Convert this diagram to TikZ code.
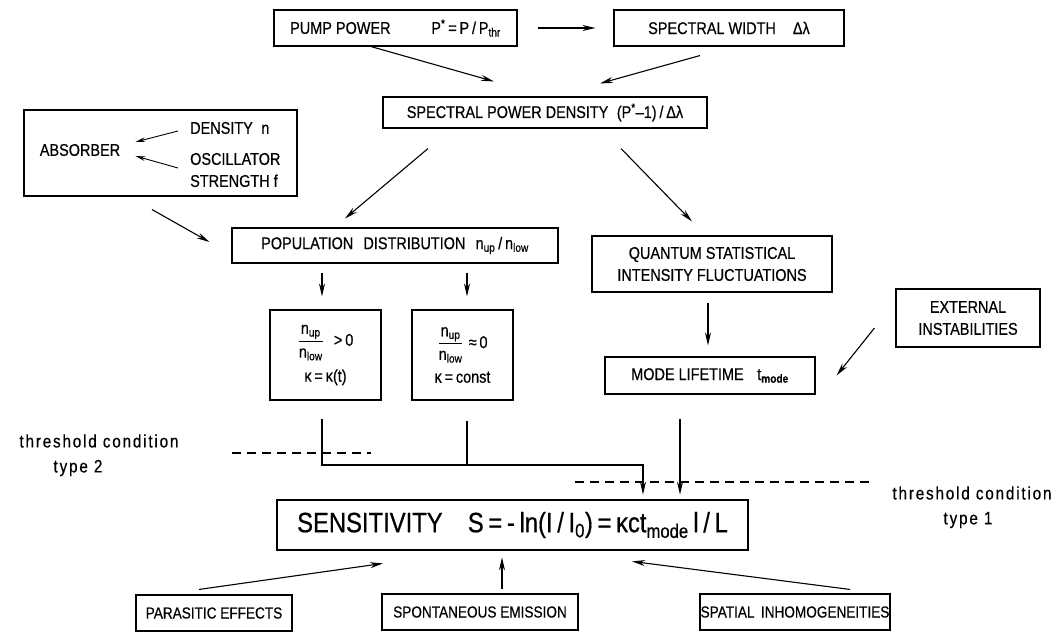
\documentclass[tikz,border=0pt]{standalone}
\usepackage{fontspec}
\setmainfont{Liberation Sans}[FakeStretch=0.85,FakeBold=0.5]
\usepackage{amsmath}
\usetikzlibrary{arrows.meta}
\begin{document}
\begin{tikzpicture}[x=1pt,y=-1pt,
  box/.style={draw,line width=1.1pt,inner sep=0pt,align=center,font=\fontsize{17}{22}\selectfont},
  txt/.style={inner sep=0pt,align=left,font=\fontsize{17}{22}\selectfont},
  thr/.style={inner sep=0pt,align=center,font=\fontsize{18}{22}\selectfont\addfontfeature{LetterSpace=10}},
  bbox/.style={draw,line width=1.1pt,inner sep=0pt,align=center,font=\fontsize{16}{20}\selectfont},
  arr/.style={line width=1.1pt,-{Stealth[length=13pt,width=6pt]}},
  sarr/.style={line width=0.9pt,-{Stealth[length=10pt,width=4.5pt]}},
  ln/.style={line width=1.1pt},
  dsh/.style={line width=1.1pt,dash pattern=on 9pt off 6pt}]
\useasboundingbox (0,0) rectangle (1059,634);

% top row
\node[box,minimum width=243pt,minimum height=36pt] (pump) at (395.5,28) {PUMP POWER\hspace{2.4em}P\textsuperscript{*}\,=\,P\,/\,P\textsubscript{thr}};
\node[box,minimum width=230pt,minimum height=36pt] (sw) at (729,28) {SPECTRAL WIDTH\hspace{1em}Δλ};
\node[box,minimum width=324pt,minimum height=31pt] (spd) at (545,112.5) {SPECTRAL POWER DENSITY\hspace{0.5em}(P\textsuperscript{*}--1)\,/\,Δλ};

% absorber
\node[draw,line width=1.1pt,minimum width=273pt,minimum height=86pt] (abs) at (160.5,153) {};
\node[txt] (absl) at (80,150) {ABSORBER};
\node[txt,anchor=west] (dens) at (190,128) {DENSITY\hspace{0.5em}n};
\node[txt,anchor=west] (osc) at (190,170) {OSCILLATOR\\STRENGTH f};

% middle
\node[box,minimum width=326pt,minimum height=35pt] (pop) at (395,245.5) {POPULATION\hspace{0.6em}DISTRIBUTION\hspace{0.6em}n\textsubscript{up}\,/\,n\textsubscript{low}};
\node[box,minimum width=240pt,minimum height=56pt] (qs) at (712,264) {QUANTUM STATISTICAL\\INTENSITY FLUCTUATIONS};
\node[box,minimum width=111pt,minimum height=90pt] (f1) at (325.5,355) {$\dfrac{\mbox{n\textsubscript{up}}}{\mbox{n\textsubscript{low}}}$\hspace{0.6em}>\,0\\[8pt]κ\,=\,κ(t)};
\node[box,minimum width=101pt,minimum height=90pt] (f2) at (462.5,355) {$\dfrac{\mbox{n\textsubscript{up}}}{\mbox{n\textsubscript{low}}}$\hspace{0.3em}≈\,0\\[8pt]κ\,=\,const};
\node[box,minimum width=210pt,minimum height=37pt] (mode) at (710,375.5) {MODE LIFETIME\hspace{0.8em}t\textsubscript{\textbf{mode}}};
\node[box,minimum width=144pt,minimum height=58pt] (ext) at (968,318) {EXTERNAL\\INSTABILITIES};

% threshold labels
\node[thr] (th2) at (99,441) {threshold condition};
\node[thr] (ty2) at (78,468) {type 2};
\node[thr] (th1) at (972,493) {threshold condition};
\node[thr] (ty1) at (968,520) {type 1};
\coordinate (d2a) at (232,453);
\coordinate (d2b) at (371,453);
\coordinate (d1a) at (575,482);
\coordinate (d1b) at (870,482);
\draw[dsh] (d2a) -- (d2b);
\draw[dsh] (d1a) -- (d1b);

% sensitivity
\node[draw,line width=2.8pt,inner sep=0pt,minimum width=471pt,minimum height=50pt,font=\fontsize{28}{32}\selectfont] (sens) at (512.5,525) {SENSITIVITY\hspace{0.9em}S\,=\,-\,ln(I\,/\,I\textsubscript{0})\,=\,κct\textsubscript{mode}\,l\,/\,L};

% bottom
\node[bbox,minimum width=156pt,minimum height=36pt] (par) at (214,613) {PARASITIC EFFECTS};
\node[bbox,minimum width=196pt,minimum height=36pt] (spo) at (480,612) {SPONTANEOUS EMISSION};
\node[bbox,minimum width=190pt,minimum height=36pt] (spa) at (795,612) {SPATIAL\hspace{0.4em}INHOMOGENEITIES};

% connectors
\draw[arr] ([xshift=20pt]pump.east) -- ([xshift=-18pt]sw.west);
\draw[arr] ([xshift=-24.5pt]pump.south) -- ([xshift=-51pt,yshift=15pt]spd.north);
\draw[arr] ([xshift=-29pt,yshift=-9pt]sw.south) -- ([xshift=55pt,yshift=13pt]spd.north);

\draw[sarr] ([xshift=-12pt,yshift=-3pt]dens.west) -- ([xshift=15pt,yshift=8pt]absl.east);
\draw[sarr] ([xshift=-12pt,yshift=2pt]osc.west) -- ([xshift=15pt,yshift=-6pt]absl.east);
\draw[arr] ([xshift=-8.5pt,yshift=-13pt]abs.south) -- ([xshift=-22pt,yshift=3.5pt]pop.west);

\draw[arr] ([xshift=-117pt,yshift=-20pt]spd.south) -- ([xshift=-50pt,yshift=9pt]pop.north);
\draw[arr] ([xshift=76pt,yshift=-20pt]spd.south) -- ([xshift=-20pt,yshift=14pt]qs.north);

\draw[arr] ([xshift=-73pt,yshift=-9pt]pop.south) -- ([xshift=-3.5pt,yshift=13pt]f1.north);
\draw[arr] ([xshift=72pt,yshift=-9pt]pop.south) -- ([xshift=4.5pt,yshift=13pt]f2.north);
\draw[arr] ([xshift=-4pt,yshift=-10pt]qs.south) -- ([xshift=-2pt,yshift=11pt]mode.north);
\draw[arr] ([xshift=-21pt,yshift=-10pt]ext.west) -- ([xshift=21pt]mode.east);

\coordinate (j) at (643,465);
\coordinate (f2b) at (467,465);
\draw[arr] ([xshift=-3.5pt,yshift=-18pt]f1.south) |- (j) -- ([xshift=130.5pt,yshift=4pt]sens.north);
\draw[ln] ([xshift=4.5pt,yshift=-20pt]f2.south) -- (f2b);
\draw[arr] ([xshift=-30pt,yshift=-24pt]mode.south) -- ([xshift=167.5pt,yshift=4pt]sens.north);

\draw[arr] ([xshift=-15pt,yshift=5pt]par.north) -- ([xshift=-129.5pt,yshift=-12pt]sens.south);
\draw[arr] ([xshift=22pt,yshift=4pt]spo.north) -- ([xshift=-10.5pt,yshift=-6pt]sens.south);
\draw[arr] ([xshift=55pt,yshift=4pt]spa.north) -- ([xshift=119.5pt,yshift=-10pt]sens.south);
\end{tikzpicture}
\end{document}
